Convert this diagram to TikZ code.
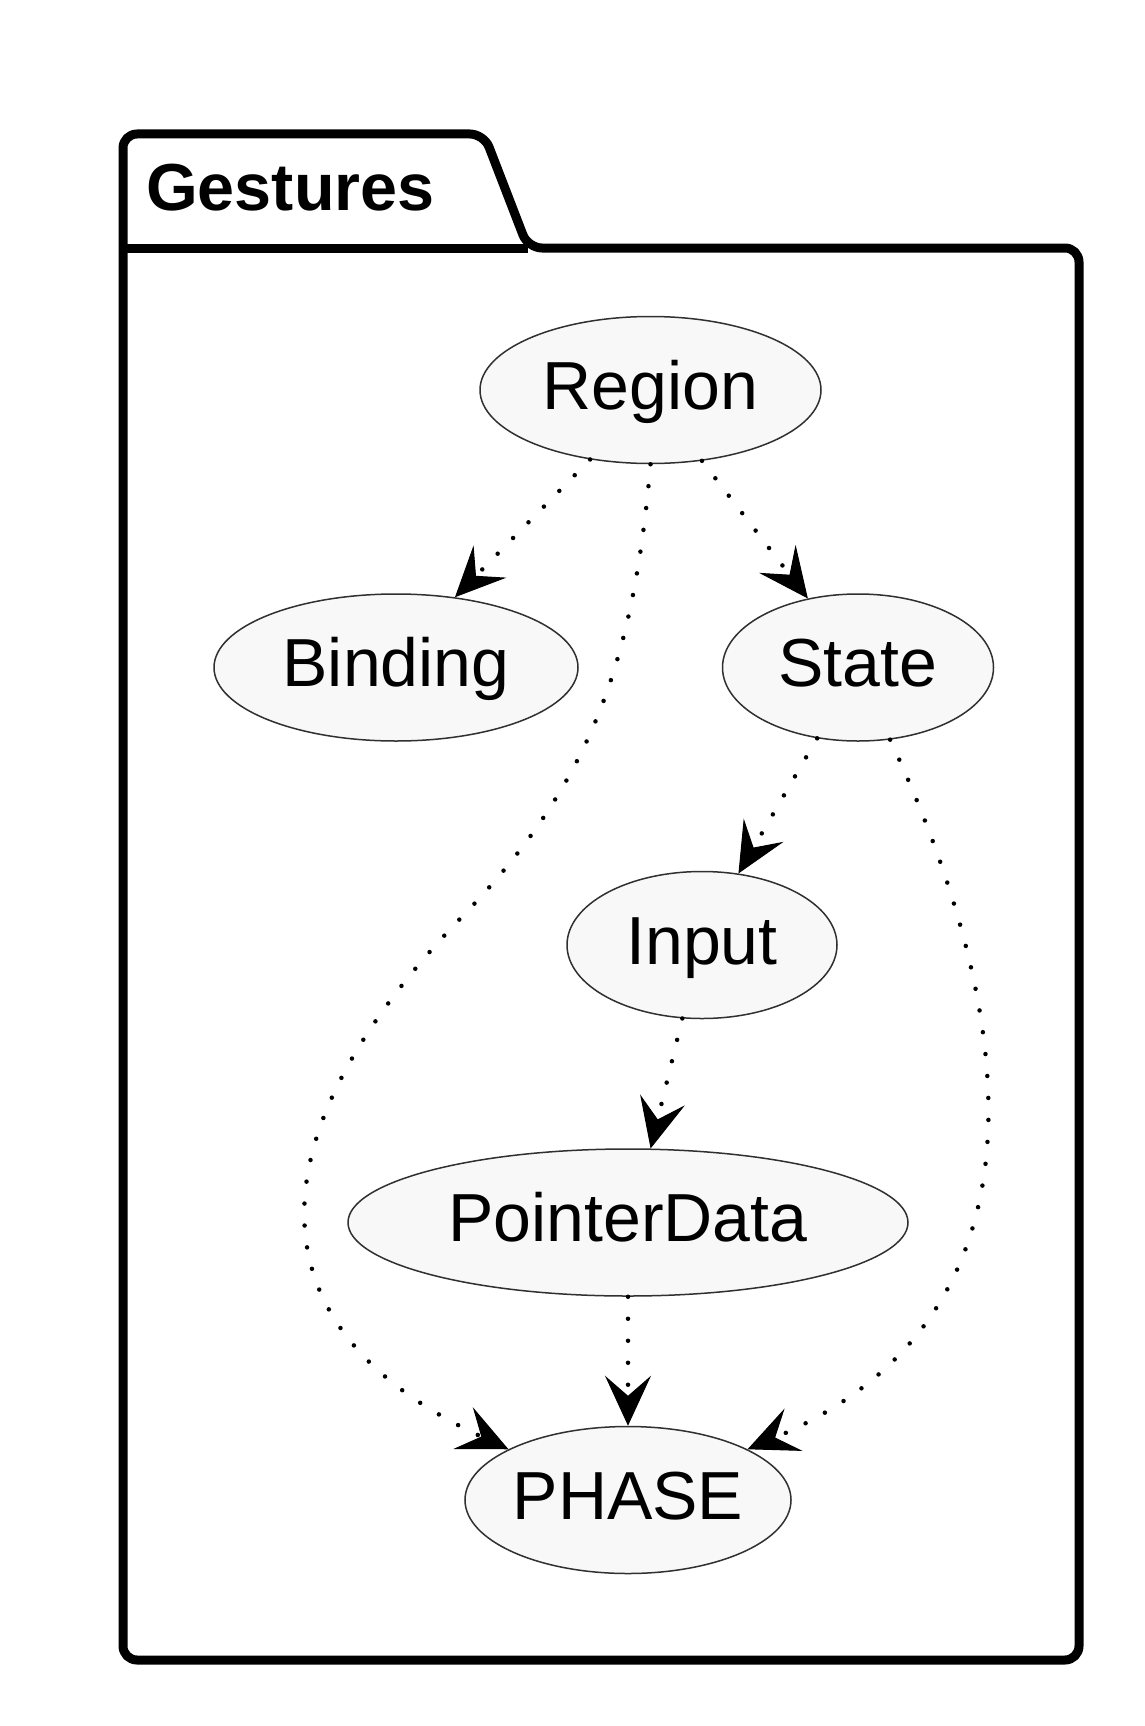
\documentclass[tikz,border=0pt]{standalone}
\usepackage{fontspec}
\setmainfont{Liberation Sans}
\usetikzlibrary{arrows.meta, positioning, shapes.geometric}
\definecolor{UseFill}{HTML}{F8F8F8}
\definecolor{UseLine}{HTML}{303030}

\begin{document}
\begin{tikzpicture}[
  x=1pt, y=1pt,
  usecase/.style={ellipse, draw=UseLine, line width=1.5pt, fill=UseFill,
    inner sep=0pt, minimum height=147pt, text height=54pt, text depth=16pt,
    font=\fontsize{68}{80}\selectfont},
  dep/.style={line width=4.5pt, line cap=round, dash pattern=on 0pt off 22pt,
    -{Stealth[length=50pt, width=46pt, inset=20pt, line width=1pt]}},
  pkg/.style={line width=9pt, rounded corners=14pt, line join=round},
  node distance=129pt
]
  \useasboundingbox (0,0) rectangle (1144,-1726);
  % package frame with its tab
  \draw[pkg, fill=white] (123,-248) -- (123,-134) -- (484,-134) -- (528,-248)
    -- (1079,-248) -- (1079,-1660) -- (123,-1660) -- cycle;
  \draw[pkg] (123,-248) -- (528,-248);
  \node[anchor=base west, inner sep=0pt, font=\fontsize{66.5}{78}\selectfont\bfseries]
    (pkgname) at (146,-210) {Gestures};

  \node[usecase, minimum width=341pt] (reg) at (650.5,-390) {Region};
  \node[usecase, minimum width=364pt, below=of reg, xshift=-254.5pt] (bind) {Binding};
  \node[usecase, minimum width=271pt, below=of reg, xshift=207.5pt] (state) {State};
  \node[usecase, minimum width=270pt, below=of state, xshift=-156pt] (input) {Input};
  \node[usecase, minimum width=560pt, below=of input, xshift=-74pt] (ptr) {PointerData};
  \node[usecase, minimum width=325pt, below=of ptr] (phase) {PHASE};

  \draw[dep] (reg.229) -- (bind.50);
  \draw[dep] (reg.306) -- (state.126);
  \draw[dep] (reg.south) to[out=-95, in=46] ++(-188,-452)
    to[out=-134, in=155, looseness=1.42] (phase.157);
  \draw[dep] (state.240) -- (input.63);
  \draw[dep] (state.294) to[out=-65, in=23, looseness=1.15] (phase.23);
  \draw[dep] (input.255) -- (ptr.73);
  \draw[dep] (ptr.south) -- (phase.north);
\end{tikzpicture}
\end{document}
